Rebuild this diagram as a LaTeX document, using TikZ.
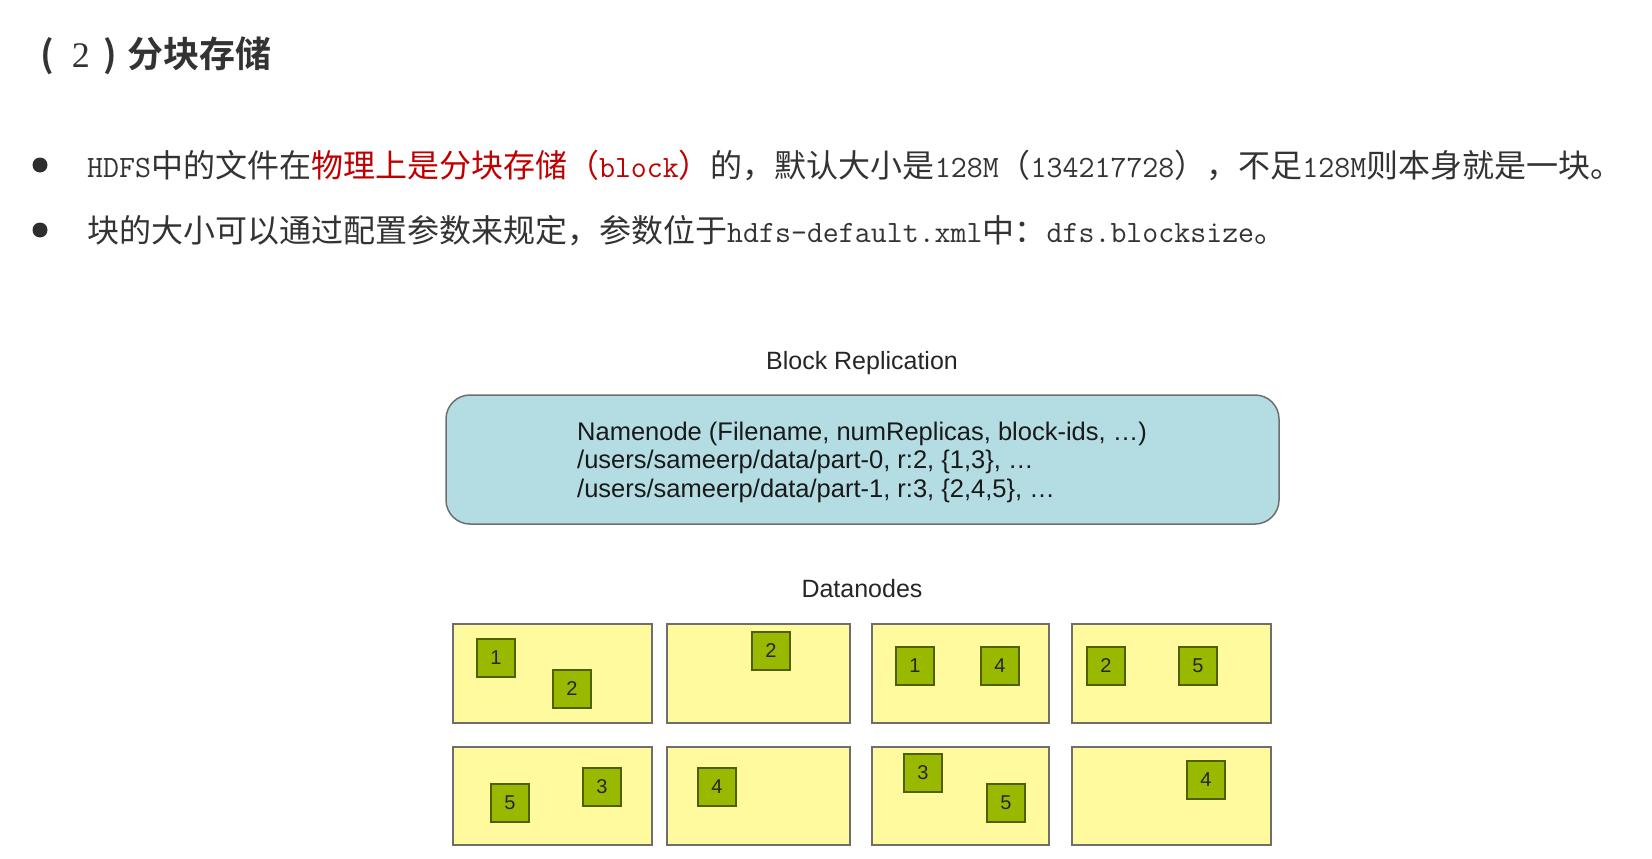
\documentclass[tikz,border=0pt]{standalone}
\usepackage{fontspec}
\setmainfont{Liberation Sans}
\newfontfamily\cjk[BoldFont={Noto Sans CJK SC Bold}]{Noto Sans CJK SC}
\newfontfamily\arial{Liberation Sans}
\newfontfamily\tnr{Liberation Serif}
\newcommand{\lt}[1]{{\ttfamily\fontsize{31}{31}\selectfont #1}}
\definecolor{txt}{HTML}{333333}
\definecolor{redtxt}{HTML}{C00000}
\definecolor{nnfill}{HTML}{B4DDE3}
\definecolor{dnfill}{HTML}{FFFA9E}
\definecolor{blkfill}{HTML}{99B800}
\definecolor{blkdraw}{HTML}{4F6000}
\definecolor{boxdraw}{HTML}{6E6E6E}
\begin{document}
\begin{tikzpicture}[x=1pt,y=-1pt,
  bodytext/.style={anchor=base west,inner sep=0pt,text=txt,font=\cjk\fontsize{32}{32}\selectfont},
  bulletdot/.style={circle,fill=txt!90!black,minimum size=15pt,inner sep=0pt},
  dnbox/.style={draw=boxdraw,fill=dnfill,line width=1.5pt},
  blk/.style={draw=blkdraw,fill=blkfill,line width=1.3pt,minimum size=38pt,inner sep=0pt,font=\arial\fontsize{20}{20}\selectfont,text=black!85},
  lbl/.style={font=\arial\fontsize{25}{25}\selectfont,text=black!85,inner sep=0pt}]
\useasboundingbox (0,0) rectangle (1652,859);
\fill[white] (0,0) rectangle (1652,859);

% title
\node[anchor=base west,inner sep=0pt,text=txt] (title) at (40,67)
  {\cjk\fontsize{36}{36}\selectfont\bfseries (\hspace{18pt}{\tnr\mdseries\fontsize{36}{36}\selectfont 2}\hspace{14pt})\hspace{10pt}分块存储};

% bullets
\node[bulletdot] (b1) at (40,165) {};
\node[bulletdot] (b2) at (40,230) {};
\node[bodytext] (l1) at (87,177)
  {\lt{HDFS}中的文件在\textcolor{redtxt}{物理上是分块存储（\lt{block}）}的，默认大小是\lt{128M}（\lt{134217728}），不足\lt{128M}则本身就是一块。};
\node[bodytext] (l2) at (87,242)
  {块的大小可以通过配置参数来规定，参数位于\lt{hdfs-default.xml}中：\lt{dfs.blocksize}。};

% diagram
\node[lbl] (br) at (862,363) {Block Replication};
\draw[draw=boxdraw,fill=nnfill,line width=1.5pt,rounded corners=24pt] (446,395) rectangle (1279,524);
\node[anchor=west,align=left,inner sep=0pt,text=black!90,font=\arial\fontsize{25.5}{28.5}\selectfont] (nn) at (577,462)
  {Namenode (Filename, numReplicas, block-ids, \dots)\\
   /users/sameerp/data/part-0, r:2, \{1,3\}, \dots\\
   /users/sameerp/data/part-1, r:3, \{2,4,5\}, \dots};
\node[lbl] (dn) at (862,589) {Datanodes};

\draw[dnbox] (453,624) rectangle (652,723);
\draw[dnbox] (667,624) rectangle (850,723);
\draw[dnbox] (872,624) rectangle (1049,723);
\draw[dnbox] (1072,624) rectangle (1271,723);
\draw[dnbox] (453,747) rectangle (652,845);
\draw[dnbox] (667,747) rectangle (850,845);
\draw[dnbox] (872,747) rectangle (1049,845);
\draw[dnbox] (1072,747) rectangle (1271,845);

\node[blk] (a1) at (496,658) {1};
\node[blk] (a2) at (572,689) {2};
\node[blk] (c2) at (771,651) {2};
\node[blk] (e1) at (915,666) {1};
\node[blk] (e4) at (1000,666) {4};
\node[blk] (g2) at (1106,666) {2};
\node[blk] (g5) at (1198,666) {5};
\node[blk] (h5) at (510,803) {5};
\node[blk] (h3) at (602,787) {3};
\node[blk] (i4) at (717,787) {4};
\node[blk] (j3) at (923,773) {3};
\node[blk] (j5) at (1006,803) {5};
\node[blk] (k4) at (1206,780) {4};
\end{tikzpicture}
\end{document}
